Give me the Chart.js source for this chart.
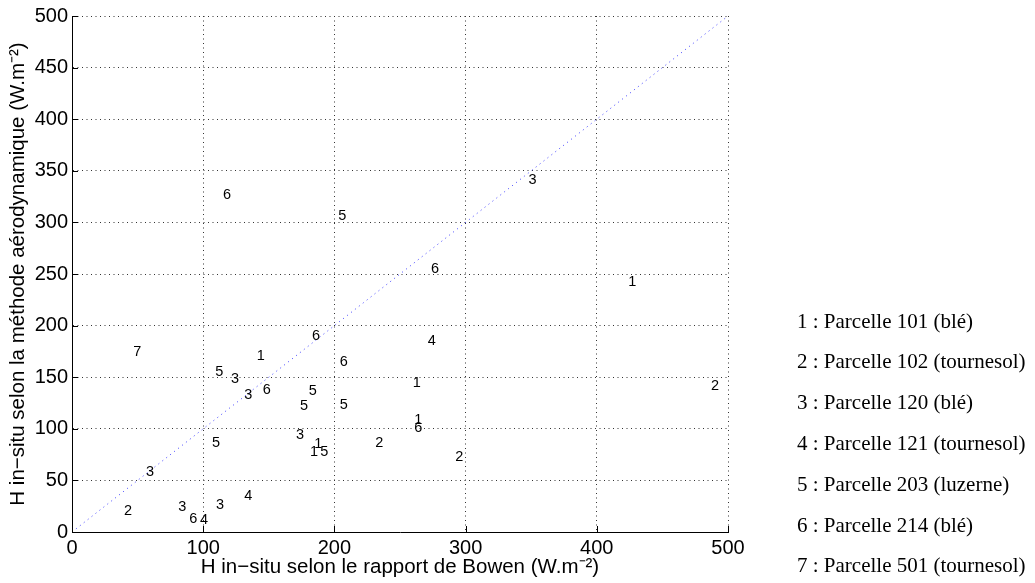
<!DOCTYPE html>
<html>
<head>
<meta charset="utf-8">
<script src="https://cdn.jsdelivr.net/npm/chart.js@4/dist/chart.umd.min.js"></script>
<style>
  html, body { margin: 0; padding: 0; background: #fff; }
  #wrap { position: relative; width: 1035px; height: 583px; }
</style>
</head>
<body>
<div id="wrap"><canvas id="c" width="1035" height="583"></canvas></div>
<script>
// ---- data ----
const seriesIds = ['1', '2', '3', '4', '5', '6', '7'];
const legendTexts = [
  '1 : Parcelle 101 (blé)',
  '2 : Parcelle 102 (tournesol)',
  '3 : Parcelle 120 (blé)',
  '4 : Parcelle 121 (tournesol)',
  '5 : Parcelle 203 (luzerne)',
  '6 : Parcelle 214 (blé)',
  '7 : Parcelle 501 (tournesol)'
];
// H Bowen (x) and H aérodynamique (y), W.m-2
const x1 = [424, 259.7, 260.9, 140.8, 184.7, 181.4];
const y1 = [242.7, 144.4, 109, 170.2, 85.1, 77.7];
const x2 = [487, 231.2, 292.2, 39.6];
const y2 = [141.2, 85.8, 72.8, 20.6];
const x3 = [348, 121.2, 131.3, 170.7, 56.4, 81, 109.8];
const y3 = [341.1, 148, 133.2, 93.8, 57.7, 23.9, 26.1];
const x4 = [271.1, 97.6, 131.3];
const y4 = [185, 11.6, 34.8];
const x5 = [203, 109.2, 180.4, 173.8, 204, 189.3, 106.7];
const y5 = [306, 155, 136.7, 121.9, 122.8, 77.1, 85.8];
const x6 = [115.1, 273.6, 182.9, 204, 145.4, 260.9, 89.4];
const y6 = [326.4, 255, 189.6, 164.7, 138, 100.3, 12.3];
const x7 = [46.7];
const y7 = [174.4];
const diagX = [0, 500];
const diagY = [0, 500];
const xTitle = 'H in\u2212situ selon le rapport de Bowen (W.m\u207B\u00B2)';
const yTitle = 'H in\u2212situ selon la méthode aérodynamique (W.m\u207B\u00B2)';

const xs = [x1, x2, x3, x4, x5, x6, x7];
const ys = [y1, y2, y3, y4, y5, y6, y7];

const SANS = "'Liberation Sans', Arial, Helvetica, sans-serif";
const SERIF = "'Liberation Serif', 'Times New Roman', Times, serif";

const pairs = (xa, ya) => xa.map((v, i) => ({ x: v, y: ya[i] }));

const datasets = seriesIds.map((id, k) => ({
  type: 'scatter',
  label: id,
  labelText: id,
  data: pairs(xs[k], ys[k]),
  pointRadius: 0,
  pointHoverRadius: 0,
  showLine: false
}));
datasets.push({
  type: 'line',
  label: '1:1',
  data: pairs(diagX, diagY),
  borderColor: 'rgba(40,40,255,0.9)',
  borderWidth: 1,
  borderDash: [1, 4],
  pointRadius: 0,
  fill: false
});

const textLabels = {
  id: 'textLabels',
  afterDatasetsDraw(chart) {
    const ctx = chart.ctx;
    ctx.save();
    ctx.font = '14.5px ' + SANS;
    ctx.fillStyle = '#000';
    ctx.textAlign = 'left';
    ctx.textBaseline = 'middle';
    chart.data.datasets.forEach((ds, i) => {
      if (!ds.labelText) return;
      const meta = chart.getDatasetMeta(i);
      meta.data.forEach(el => ctx.fillText(ds.labelText, el.x, el.y));
    });
    ctx.restore();
  }
};

const innerTicks = {
  id: 'innerTicks',
  afterDraw(chart) {
    const ctx = chart.ctx;
    const xs_ = chart.scales.x, ys_ = chart.scales.y;
    const a = chart.chartArea;
    ctx.save();
    ctx.strokeStyle = '#000';
    ctx.lineWidth = 1;
    ctx.beginPath();
    xs_.ticks.forEach(t => {
      const px = Math.round(xs_.getPixelForValue(t.value)) + 0.5;
      ctx.moveTo(px, a.bottom);
      ctx.lineTo(px, a.bottom - 6);
    });
    ys_.ticks.forEach(t => {
      const py = Math.round(ys_.getPixelForValue(t.value)) + 0.5;
      ctx.moveTo(a.left, py);
      ctx.lineTo(a.left + 6, py);
    });
    ctx.stroke();
    ctx.restore();
  }
};

const sideLegend = {
  id: 'sideLegend',
  afterDraw(chart) {
    const ctx = chart.ctx;
    ctx.save();
    ctx.font = '21px ' + SERIF;
    ctx.fillStyle = '#000';
    ctx.textAlign = 'left';
    ctx.textBaseline = 'middle';
    legendTexts.forEach((t, i) => ctx.fillText(t, 797, 322 + 40.8 * i));
    ctx.restore();
  }
};

new Chart(document.getElementById('c'), {
  data: { datasets },
  options: {
    responsive: false,
    animation: false,
    events: [],
    layout: { padding: { left: 0, top: 15, right: 307, bottom: 0 } },
    plugins: {
      legend: { display: false },
      tooltip: { enabled: false }
    },
    scales: {
      x: {
        type: 'linear',
        position: 'bottom',
        min: 0, max: 500,
        afterFit(s) { s.height = 51; },
        ticks: { stepSize: 100, color: '#000', font: { family: SANS, size: 20 }, padding: 4, maxRotation: 0 },
        grid: { color: '#333', lineWidth: 1, drawTicks: false },
        border: { display: true, color: '#000', width: 1, dash: [1, 3.5] },
        title: { display: true, text: xTitle, color: '#000', font: { family: SANS, size: 20.5 }, padding: { top: 0, bottom: 3 } }
      },
      y: {
        type: 'linear',
        position: 'left',
        min: 0, max: 500,
        afterFit(s) { s.width = 72; },
        ticks: { stepSize: 50, color: '#000', font: { family: SANS, size: 20 }, padding: 4 },
        grid: { color: '#333', lineWidth: 1, drawTicks: false },
        border: { display: true, color: '#000', width: 1, dash: [1, 3.5] },
        title: { display: true, text: yTitle, color: '#000', font: { family: SANS, size: 20.5 }, padding: { top: 6, bottom: 0 } }
      }
    }
  },
  plugins: [textLabels, innerTicks, sideLegend]
});
</script>
</body>
</html>
